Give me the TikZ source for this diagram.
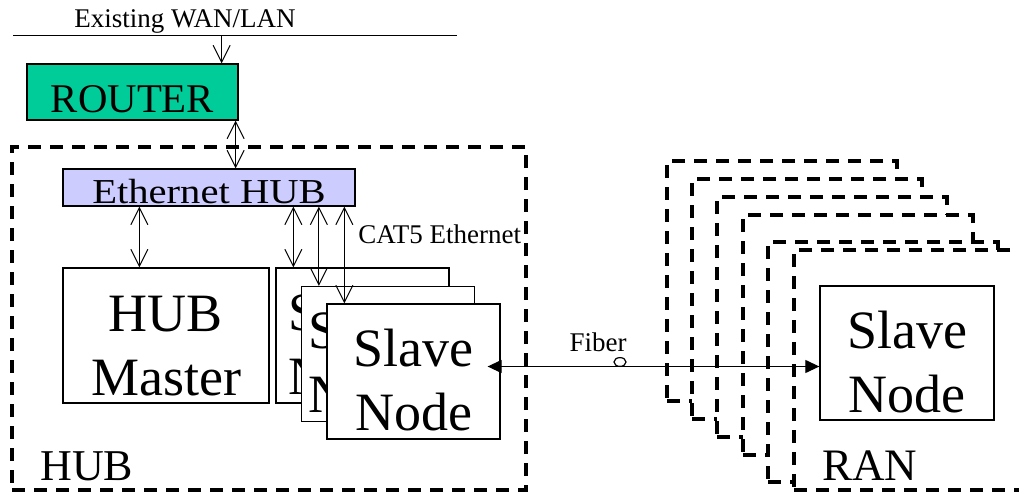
\documentclass[tikz,border=0pt]{standalone}
\usepackage{fontspec}
\setmainfont{Liberation Serif}
\usepackage{graphicx}
\usetikzlibrary{arrows.meta}
\definecolor{routergreen}{RGB}{0,204,153}
\definecolor{hubblue}{RGB}{204,204,255}

\begin{document}
\begin{tikzpicture}[x=0.5pt, y=-0.5pt,
  box/.style={draw, line width=0.65pt, inner sep=0pt},
  unit/.style={box, fill=white, minimum width=86.5pt, minimum height=67.5pt, font=\fontsize{27}{32}\selectfont, align=center, text height=59pt, text depth=0pt},
  backunit/.style={unit, align=left, text height=26.5pt, text depth=32pt},
  frame/.style={draw, line width=2pt, dash pattern=on 6.5pt off 4.5pt, inner sep=0pt},
  link/.style={line width=0.5pt, {Straight Barb[length=8.5pt,width=8.5pt]}-{Straight Barb[length=8.5pt,width=8.5pt]}},
  feed/.style={line width=0.5pt, -{Straight Barb[length=8.5pt,width=8.5pt]}},
  fiber/.style={line width=0.6pt, {Triangle[length=7pt,width=6.5pt]}-{Triangle[length=7pt,width=6.5pt]}},
  small/.style={font=\fontsize{13.5}{16}\selectfont, inner sep=0pt}]
  \useasboundingbox (0,0) rectangle (1019,493);
  \clip (0,0) rectangle (1019,493);

  \node[frame, minimum width=257pt, minimum height=171.5pt] (hub) at (269,318.5) {};
  \node[anchor=base west, inner sep=0pt, font=\fontsize{22}{26}\selectfont] (hublbl) at (40,480) {HUB};

  \coordinate (wanL) at (13,35);
  \coordinate (wanR) at (457,35);
  \draw[line width=0.5pt] (wanL) -- (wanR);
  \node[small, anchor=base] (wanlbl) at (185,27) {Existing WAN/LAN};

  \node[box, fill=routergreen, minimum width=105.5pt, minimum height=28pt, text height=20pt, text depth=0pt, font=\fontsize{20.4}{24}\selectfont] (router) at (132.5,92) {ROUTER};
  \node[box, fill=hubblue, minimum width=146pt, minimum height=18.5pt, text height=15.5pt, text depth=0pt, font=\fontsize{17.5}{21}\selectfont] (eth) at (209,187.5) {\scalebox{1.16}[1]{Ethernet HUB}};

  \node[unit, minimum width=103pt, text height=59.5pt] (hm) at (166,335.5) {HUB\\Master};
  \node[backunit, text width=74.5pt, inner xsep=6pt] (s1) at (362.5,335.5) {Slave\\Node};
  \node[backunit, text width=79.5pt, inner xsep=3.5pt] (s2) at (388,354) {Slave\\Node};
  \node[unit] (s3) at (413.5,371.5) {Slave\\Node};

  \foreach \cx/\cy [count=\i] in {782/281, 807/299, 832/317, 858/335, 883/362, 909/370}
    \node[frame, fill=white, minimum width=115pt, minimum height=120pt] (ran\i) at (\cx,\cy) {};
  \node[unit, minimum width=87pt, minimum height=67pt] (rs) at (907,353) {Slave\\Node};
  \node[anchor=base west, inner sep=0pt, font=\fontsize{22.5}{26}\selectfont] (ranlbl) at (822,480) {RAN};

  \coordinate (rin) at ([xshift=-8.5pt]router.north east);
  \draw[feed] (wanL -| rin) -- (rin);
  \coordinate (rout) at ([xshift=-1.5pt]router.south east);
  \draw[link] (rout) -- (rout |- eth.north);
  \coordinate (hmt) at ([xshift=38.5pt]hm.north west);
  \draw[link] (eth.south -| hmt) -- (hmt);
  \foreach \n in {s1,s2,s3} {
    \coordinate (\n t) at ([xshift=9pt]\n.north west);
    \draw[link] (eth.south -| \n t) -- (\n t);
  }
  \node[small, anchor=base west] (catlbl) at (358,243) {CAT5 Ethernet};

  \draw[fiber] ([xshift=-6.5pt, yshift=2.5pt]s3.east) -- ([yshift=-6.75pt]rs.west);
  \draw[line width=0.6pt, fill=white] (620,362) ellipse [x radius=3pt, y radius=2.2pt];
  \node[small, anchor=base] (fiblbl) at (598,351) {Fiber};
\end{tikzpicture}
\end{document}
